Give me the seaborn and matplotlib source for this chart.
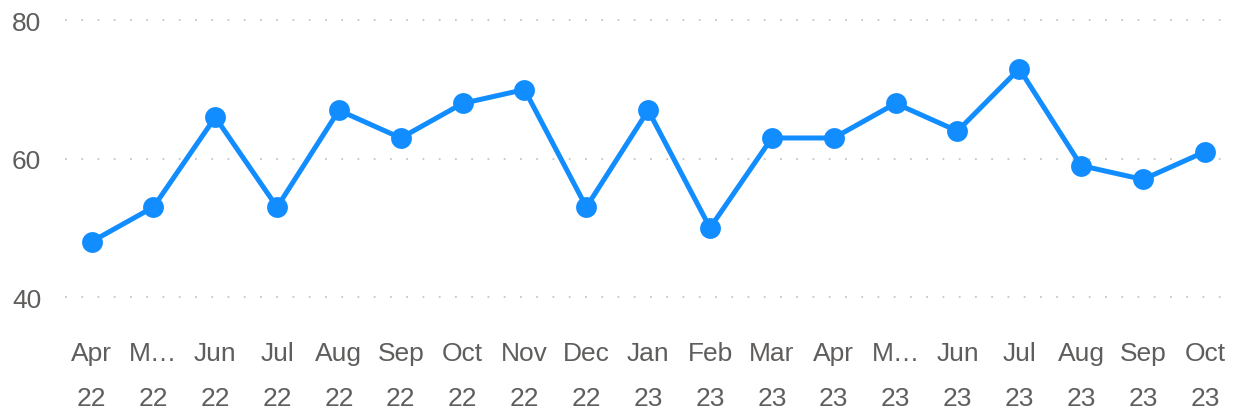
import matplotlib.pyplot as plt
import seaborn as sns
import pandas as pd

# ==========================
# Data
# ==========================

months = ["Apr\n22", "M…\n22", "Jun\n22", "Jul\n22", "Aug\n22", "Sep\n22", "Oct\n22",
          "Nov\n22", "Dec\n22", "Jan\n23", "Feb\n23", "Mar\n23", "Apr\n23", "M…\n23",
          "Jun\n23", "Jul\n23", "Aug\n23", "Sep\n23", "Oct\n23"]
values = [48, 53, 66, 53, 67, 63, 68, 70, 53, 67, 50, 63, 63, 68, 64, 73, 59, 57, 61]
y_ticks = [40, 60, 80]

df = pd.DataFrame({"month": months, "value": values})
df["pos"] = range(len(df))

sns.set_style("white")
plt.rcParams["font.family"] = ["Liberation Sans", "DejaVu Sans"]

blue = "#118DFF"
grey = "#605E5C"

fig = plt.figure(figsize=(12.37, 4.14), dpi=100)
ax = fig.add_axes([0.049, 0.2, 0.95, 0.79])

sns.lineplot(data=df, x="pos", y="value", ax=ax, color=blue, linewidth=3.6,
             marker="o", markersize=15, markeredgewidth=0, zorder=3)

ax.set_xlim(-0.5, len(months) - 0.5)
ax.set_ylim(35.2, 82.5)
ax.set_yticks(y_ticks)
ax.set_xticks(df["pos"])
ax.set_xticklabels(months, linespacing=2.1)
ax.tick_params(axis="both", length=0, labelsize=19, colors=grey)
ax.tick_params(axis="x", pad=8)
ax.tick_params(axis="y", pad=14)

for t in y_ticks:
    ax.axhline(t, xmin=0.004, xmax=0.993, color="#C8C6C4", linewidth=1.3,
               linestyle=(0, (1, 8)), zorder=1)

ax.set_xlabel("")
ax.set_ylabel("")
for s in ax.spines.values():
    s.set_visible(False)

fig.savefig("out.png", dpi=100)
